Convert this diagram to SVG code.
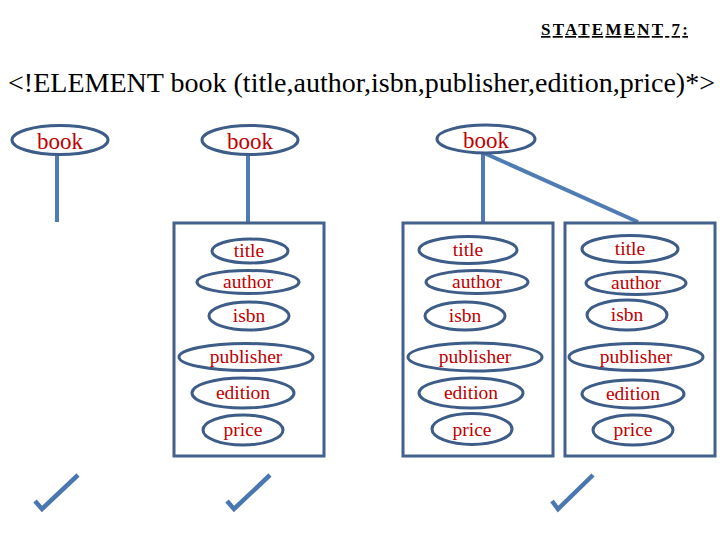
<svg xmlns="http://www.w3.org/2000/svg" width="720" height="540" viewBox="0 0 720 540">
<style>
.el{fill:#fff;stroke:#3d5c87;stroke-width:3}
.box{fill:#fff;stroke:#42618b;stroke-width:3}
.lbl{font-family:"Liberation Serif","Times New Roman",serif;fill:#c00000;text-anchor:middle}
.bk{font-size:23px}
.in{font-size:19.5px}
.conn{stroke:#4f7cb3;stroke-width:4;fill:none}
.chk{stroke:#4a77b0;stroke-width:4.5;fill:none}
</style>
<rect width="720" height="540" fill="#fff"/>
<text x="541" y="35" font-family="'Liberation Serif','Times New Roman',serif" font-size="17" font-weight="bold" text-decoration="underline" textLength="147" lengthAdjust="spacing">STATEMENT 7:</text>
<text x="8" y="92" font-family="'Liberation Serif','Times New Roman',serif" font-size="28" fill="#000" textLength="707" lengthAdjust="spacingAndGlyphs">&lt;!ELEMENT book (title,author,isbn,publisher,edition,price)*&gt;</text>
<g id="connectors">
<line class="conn" x1="57" y1="155" x2="57" y2="222"/>
<line class="conn" x1="248" y1="155" x2="248" y2="222"/>
<line class="conn" x1="483" y1="153" x2="483" y2="222"/>
<line class="conn" x1="484" y1="153" x2="638" y2="222"/>
</g>
<g id="book1"><ellipse class="el" cx="60" cy="140" rx="48" ry="14.5"/><text class="lbl bk" x="60" y="149">book</text></g>
<g id="book2"><ellipse class="el" cx="250" cy="140" rx="48" ry="14.5"/><text class="lbl bk" x="250" y="149">book</text></g>
<g id="book3"><ellipse class="el" cx="486" cy="139" rx="49" ry="14"/><text class="lbl bk" x="486" y="148">book</text></g>
<g id="box1">
<rect class="box" x="174" y="223" width="150" height="233"/>
<ellipse class="el" cx="250" cy="251" rx="38" ry="12"/><text class="lbl in" x="249" y="257">title</text>
<ellipse class="el" cx="248" cy="282" rx="51" ry="11.5"/><text class="lbl in" x="248" y="288">author</text>
<ellipse class="el" cx="249" cy="316" rx="40" ry="14"/><text class="lbl in" x="249" y="322">isbn</text>
<ellipse class="el" cx="246" cy="357" rx="67" ry="13.5"/><text class="lbl in" x="246" y="363">publisher</text>
<ellipse class="el" cx="243" cy="393" rx="51" ry="15"/><text class="lbl in" x="243" y="399">edition</text>
<ellipse class="el" cx="243" cy="430" rx="40" ry="15"/><text class="lbl in" x="243" y="436">price</text>
</g>
<g id="box2">
<rect class="box" x="403" y="223" width="150" height="233"/>
<ellipse class="el" cx="468" cy="250" rx="49" ry="13.5"/><text class="lbl in" x="468" y="256">title</text>
<ellipse class="el" cx="477" cy="282" rx="51" ry="11.5"/><text class="lbl in" x="477" y="288">author</text>
<ellipse class="el" cx="465" cy="316" rx="40" ry="14"/><text class="lbl in" x="465" y="322">isbn</text>
<ellipse class="el" cx="475" cy="357" rx="67" ry="14"/><text class="lbl in" x="475" y="363">publisher</text>
<ellipse class="el" cx="471" cy="393" rx="52" ry="15"/><text class="lbl in" x="471" y="399">edition</text>
<ellipse class="el" cx="472" cy="429" rx="40" ry="15.5"/><text class="lbl in" x="472" y="436">price</text>
</g>
<g id="box3">
<rect class="box" x="565" y="223" width="150" height="233"/>
<ellipse class="el" cx="630" cy="249" rx="48" ry="13.5"/><text class="lbl in" x="630" y="255">title</text>
<ellipse class="el" cx="636" cy="283" rx="50" ry="11.5"/><text class="lbl in" x="636" y="289">author</text>
<ellipse class="el" cx="627" cy="315" rx="40" ry="15"/><text class="lbl in" x="627" y="321">isbn</text>
<ellipse class="el" cx="636" cy="357" rx="67" ry="13.5"/><text class="lbl in" x="636" y="363">publisher</text>
<ellipse class="el" cx="633" cy="394" rx="51" ry="14"/><text class="lbl in" x="633" y="400">edition</text>
<ellipse class="el" cx="633" cy="430" rx="40" ry="15"/><text class="lbl in" x="633" y="436">price</text>
</g>
<g id="checks">
<polyline class="chk" points="35,501 42,509 78,475"/>
<polyline class="chk" points="227,501 234,509 270,475"/>
<polyline class="chk" points="552,501 558,509 593,475"/>
</g>
</svg>
